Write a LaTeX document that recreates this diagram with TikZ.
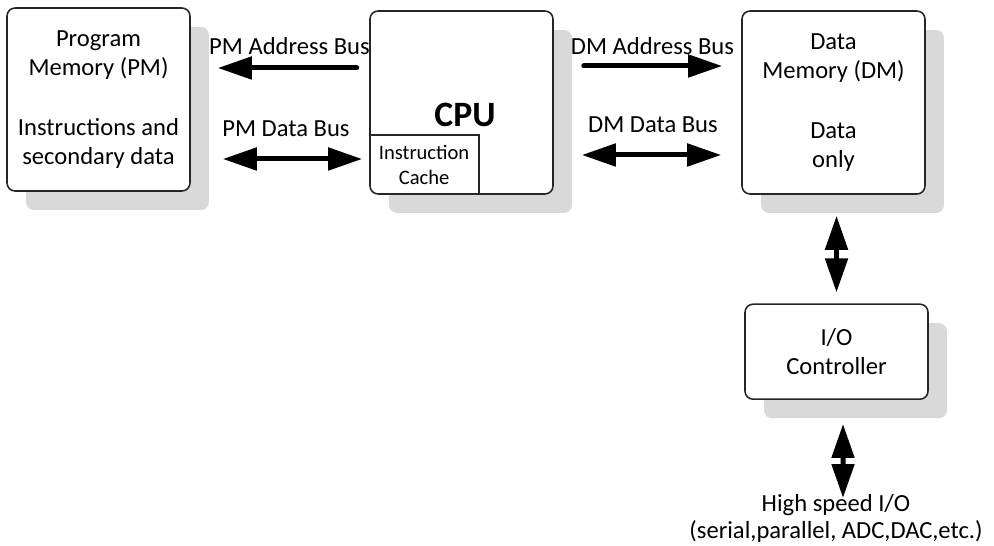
\documentclass[tikz,border=0pt]{standalone}
\usepackage{fontspec}
\setmainfont{Carlito}
\usetikzlibrary{arrows.meta,shadows,positioning}
\tikzset{
  unit/.style={draw=black!85,line width=0.9pt,rounded corners=0.16cm,fill=white,
    minimum width=3.66cm,minimum height=3.66cm,align=center,inner sep=0pt,
    drop shadow={shadow xshift=0.38cm,shadow yshift=-0.38cm,fill=black!15,opacity=1}},
  bus/.style={line width=0.1cm,line cap=round,>={Triangle[length=0.68cm,width=0.44cm]}},
  lbl/.style={inner sep=0pt,anchor=base}
}
\begin{document}
\begin{tikzpicture}[x=0.02cm,y=-0.02cm,
  every node/.style={font=\fontsize{14}{16.5}\selectfont}]
\useasboundingbox (0,0) rectangle (994,546);
\node[unit](pm)at(98.5,99.5){Program\\Memory (PM)\\[17.6pt]Instructions and\\secondary data};
\node[unit](cpu)at(461.5,102.5){};
\node[unit](dm)at(833.5,102.5){Data\\Memory (DM)\\[17.6pt]Data\\only};
\node[unit,minimum height=1.9cm](io)at(836.5,351.7){I/O\\Controller};
\node[lbl,font=\bfseries\fontsize{20.3}{24}\selectfont](cpulbl)at(465,127){CPU};
\node[anchor=south west,minimum width=2.18cm,minimum height=1.18cm,align=center,inner sep=0pt,
  font=\fontsize{11.7}{14.2}\selectfont](cache)at(cpu.south west){Instruction\\Cache};
\draw[line width=0.9pt,draw=black!85](cache.north west)--(cache.north east)--(cache.south east);
\node[align=center,inner sep=0pt,anchor=north,font=\fontsize{14}{15.2}\selectfont](hs)at(836,494)
  {High speed I/O\\(serial,parallel, ADC,DAC,etc.)};
\coordinate(ra)at(0,68);\coordinate(rb)at(0,159);
\coordinate(rc)at(0,66);\coordinate(rd)at(0,155);
\draw[bus,<-,shorten <=0.54cm,shorten >=0.25cm](pm.east|-ra)--(cpu.west|-ra);
\draw[bus,<->,shorten <=0.64cm,shorten >=0.14cm](pm.east|-rb)--(cpu.west|-rb);
\draw[bus,->,shorten <=0.6cm,shorten >=0.38cm](cpu.east|-rc)--(dm.west|-rc);
\draw[bus,<->,shorten <=0.56cm,shorten >=0.4cm](cpu.east|-rd)--(dm.west|-rd);
\draw[bus,<->,shorten <=0.42cm,shorten >=0.22cm](io.north|-dm.south)--(io.north);
\draw[bus,<->,shorten <=0.48cm,shorten >=-0.08cm]([xshift=0.13cm]io.south)--([xshift=0.14cm]hs.north);
\node[lbl](pmab)at(289.5,55){PM Address Bus};
\node[lbl](pmdb)at(286,137){PM Data Bus};
\node[lbl](dmab)at(652.5,55){DM Address Bus};
\node[lbl](dmdb)at(653,133){DM Data Bus};
\end{tikzpicture}
\end{document}
